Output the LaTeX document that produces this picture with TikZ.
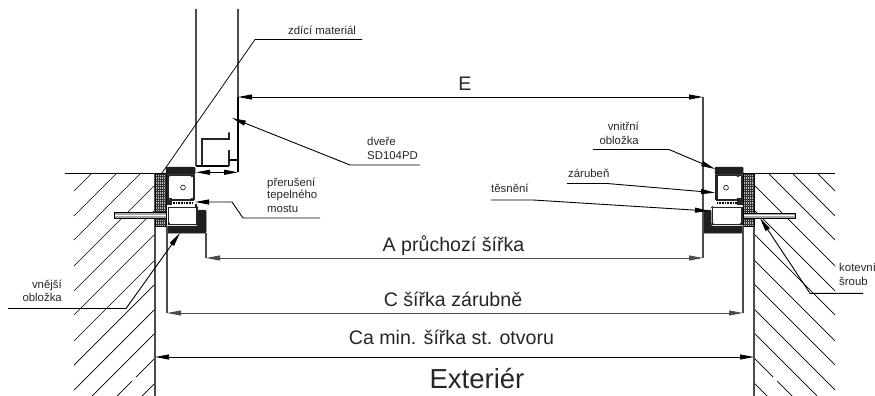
\documentclass[tikz,border=0pt]{standalone}
\usepackage{fontspec}
\setmainfont{Liberation Sans}
\usetikzlibrary{arrows.meta}
\definecolor{wallc}{gray}{0.30}
\definecolor{labelc}{gray}{0.15}
\tikzset{
  line/.style={black,line width=0.75pt},
  wallline/.style={wallc,line width=1.1pt},
  hatchline/.style={black,line width=0.7pt},
  arr/.style={-{Triangle[length=14pt,width=5pt]},black,line width=0.9pt},
  dimline/.style={{Triangle[length=14pt,width=5pt]}-{Triangle[length=14pt,width=5pt]},black,line width=0.9pt},
  thick profile/.style={black!85,line width=2pt},
  small/.style={inner sep=0pt,text=labelc,font=\fontsize{11.4}{13}\selectfont,align=left},
  dimlabel/.style={inner sep=0pt,text=labelc,font=\fontsize{19.6}{22}\selectfont},
  cover/.style={fill=black!88,draw=black!88,line width=0.5pt,rounded corners=1pt},
  prof/.style={fill=white,draw=black!85,line width=1.3pt},
  corner/.style={fill=white,draw=black,line width=0.5pt},
  grid line/.style={black!80,line width=0.5pt},
  seal/.style={black,line width=2pt,dash pattern=on 0.8pt off 0.8pt},
}
\begin{document}
\begin{tikzpicture}[x=1pt,y=-1pt]
\useasboundingbox (0,0) rectangle (875,396);
% --- hatching right (x-y = const), left mirrored about x=454.5
\begin{scope}
\clip (754,173.5) rectangle (835,396);
\foreach \k in {644,619,595,569,544,520,494,470,445,421,371}{
  \draw[hatchline] (\k+173.5,173.5) -- ({\k+396},396);
}
\draw[hatchline] (754,358) -- (773,377) (777,381) -- (792,396);
\end{scope}
\begin{scope}
\clip (155,173.5) rectangle (74,396);
\foreach \k in {644,619,595,569,544,520,494,470,445,421,371}{
  \draw[hatchline] ({909-\k-173.5},173.5) -- ({909-\k-396},396);
}
\draw[hatchline] (155,358) -- (136,377) (132,381) -- (117,396);
\end{scope}
% --- wall outlines
\draw[black,line width=0.9pt] (65,173.5) -- (155,173.5);
\draw[black,line width=0.9pt] (754,173.5) -- (835,173.5);
\draw[wallline] (155,173) -- (155,396);
\draw[wallline] (754,173) -- (754,396);
% --- wall above
\draw[wallline] (196,9) -- (196,166);
\draw[wallline] (238,9) -- (238,97);
% --- door profile
\draw[black,line width=1.5pt] (238,97) -- (238,172);
\draw[thick profile,line cap=round] (229,133) -- (229,138.5) -- (202,138.5) -- (202,165);
\draw[black,line width=1.2pt] (196,166) -- (229,166);
\draw[thick profile] (229,166) -- (229,150);
\draw[black,line width=1.3pt] (229,160) -- (238,160);
% --- left frame
\begin{scope}
\clip (155,173) rectangle (166,226);
\fill[black!25] (155,173) rectangle (166,226);
\foreach \i in {0,...,5}{\draw[grid line] (155.5+2*\i,173) -- (155.5+2*\i,226);}
\foreach \i in {0,...,21}{\draw[grid line] (155,174+2.5*\i) -- (166,174+2.5*\i);}
\end{scope}
\draw[black,line width=0.8pt] (155,173) rectangle (166,226);
\draw[cover] (166,167) rectangle (195,174.5);
\draw[cover] (166,233) -- (166,226) -- (198,226) -- (198,210) -- (206,210) -- (206,233) -- cycle;
\draw[prof] (168,175.5) rectangle (193.5,200);
\draw[black!85,line width=2pt] (194,175) -- (194,200);
\draw[black,line width=0.6pt] (183,187.5) circle (2.4);
\draw[seal] (168,203) -- (193,203);
\fill[black!85] (167,198) rectangle (172,205);
\draw[prof] (168.5,207.5) rectangle (197,224.5);
\draw[black!85,line width=1.5pt] (196,204) -- (196,207);
\foreach \p in {(168.5,176),(192,176),(168.5,199),(192,199),(197,207.5),(197,224),(169,224)}{\draw[corner] \p circle (1);}
% --- left anchor
\draw[black,fill=black!35,line width=0.9pt] (114,212.5) rectangle (166,218);
\draw[white,line width=0.4pt] (115,215) -- (166,215);
% --- right frame
\begin{scope}
\clip (743,173) rectangle (754,226);
\fill[black!25] (743,173) rectangle (754,226);
\foreach \i in {0,...,5}{\draw[grid line] (743.5+2*\i,173) -- (743.5+2*\i,226);}
\foreach \i in {0,...,21}{\draw[grid line] (743,174+2.5*\i) -- (754,174+2.5*\i);}
\end{scope}
\draw[black,line width=0.8pt] (743,173) rectangle (754,226);
\draw[cover] (715,167) rectangle (743,174.5);
\draw[cover] (743,233) -- (743,226) -- (711,226) -- (711,210) -- (703,210) -- (703,233) -- cycle;
\draw[prof] (717,175.5) rectangle (742,200);
\draw[black!85,line width=2pt] (716,175) -- (716,200);
\draw[black,line width=0.6pt] (726,187.7) circle (2.4);
\draw[seal] (717,202.5) -- (742,202.5);
\fill[black!85] (737,198) rectangle (743,205);
\draw[prof] (712.5,207.5) rectangle (742,224.5);
\foreach \p in {(717,176),(738,176),(717,199),(738,199),(712.5,207.5),(712.5,224),(741,224)}{\draw[corner] \p circle (1);}
% --- right anchor
\draw[black,fill=black!35,line width=0.9pt] (743,213) rectangle (795,218);
\draw[white,line width=0.4pt] (744,215.5) -- (794,215.5);
% --- extension lines
\draw[wallline] (206,233) -- (206,258);
\draw[wallline] (167,226) -- (167,313);
\draw[wallline] (703,97) -- (703,258);
\draw[wallline] (743,226) -- (743,313);
% --- dimension anchors
\coordinate (eL) at (238,97);  \coordinate (eR) at (703,97);
\coordinate (aL) at (206,258); \coordinate (aR) at (703,258);
\coordinate (cL) at (167,313); \coordinate (cR) at (743,313);
\coordinate (caL) at (155,357); \coordinate (caR) at (754,357);
\coordinate (dL) at (196,172.3); \coordinate (dR) at (238,172.3);
\draw[dimline] (eL) -- (eR);
\draw[dimline,wallc] (aL) -- (aR);
\draw[dimline,wallc] (cL) -- (cR);
\draw[dimline] (caL) -- (caR);
\draw[dimline] (dL) -- (dR);
% --- dimension labels
\node[dimlabel,anchor=base] (lblE) at (465,90) {E};
\node[dimlabel,anchor=base] (lblA) at (453.5,251) {A průchozí šířka};
\node[dimlabel,anchor=base] (lblC) at (453,306) {C šířka zárubně};
\node[dimlabel,anchor=base] (lblCa) at (451.5,344) {Ca min. šířka st. otvoru};
\node[inner sep=0pt,text=labelc,font=\fontsize{27.5}{30}\selectfont,anchor=base] (lblExt) at (477,388) {Exteriér};
% --- small labels
\node[small,anchor=base west] (tZdici) at (288,35) {zdící materiál};
\node[small,anchor=base west] (tDvere1) at (367,145) {dveře};
\node[small,anchor=base west] (tDvere2) at (367,159) {SD104PD};
\node[small,anchor=base west] (tPrer1) at (267,186) {přerušení};
\node[small,anchor=base west] (tPrer2) at (267,198) {tepelného};
\node[small,anchor=base west] (tPrer3) at (267,212) {mostu};
\node[small,anchor=base east] (tVne1) at (62,288) {vnější};
\node[small,anchor=base east] (tVne2) at (62,301) {obložka};
\node[small,anchor=base east] (tVni1) at (639,130) {vnitřní};
\node[small,anchor=base east] (tVni2) at (639,144) {obložka};
\node[small,anchor=base west] (tZar) at (568,177) {zárubeň};
\node[small,anchor=base west] (tTes) at (491,192) {těsnění};
\node[small,anchor=base west] (tKot1) at (839,271) {kotevní};
\node[small,anchor=base west] (tKot2) at (839,285) {šroub};
% --- leaders
\coordinate (z0) at (362,39.5); \coordinate (z1) at (255,39.5); \coordinate (z2) at (162,173);
\draw[line] (z0) -- (z1) -- (z2);
\coordinate (d0) at (420,165); \coordinate (d1) at (350,165); \coordinate (d2) at (232,118);
\draw[arr] (d0) -- (d1) -- (d2);
\coordinate (p0) at (320,218); \coordinate (p1) at (243,218); \coordinate (p2) at (232,202); \coordinate (p3) at (195,202);
\draw[arr] (p0) -- (p1) -- (p2) -- (p3);
\coordinate (v0) at (8,308.5); \coordinate (v1) at (126,308.5); \coordinate (v2) at (180,233);
\draw[arr] (v0) -- (v1) -- (v2);
\coordinate (n0) at (593,149.5); \coordinate (n1) at (669,149.5); \coordinate (n2) at (715,169);
\draw[arr] (n0) -- (n1) -- (n2);
\coordinate (r0) at (567,183.5); \coordinate (r1) at (607,183.5); \coordinate (r2) at (715,192.7);
\draw[arr] (r0) -- (r1) -- (r2);
\coordinate (t0) at (491,200); \coordinate (t1) at (533,200); \coordinate (t2) at (709,211);
\draw[arr] (t0) -- (t1) -- (t2);
\coordinate (k0) at (863,293.3); \coordinate (k1) at (810,293.3); \coordinate (k2) at (760,218);
\draw[arr] (k0) -- (k1) -- (k2);
\end{tikzpicture}
\end{document}
